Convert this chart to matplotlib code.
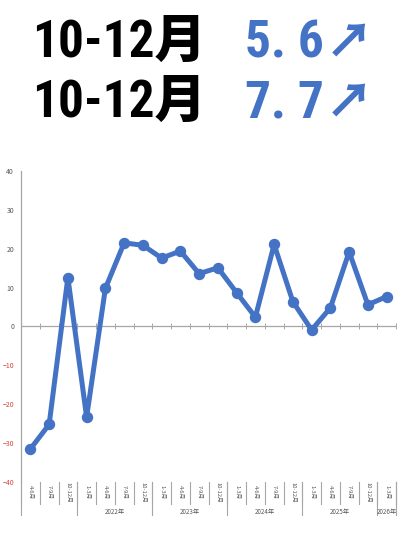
import matplotlib
matplotlib.use("Agg")
import matplotlib.pyplot as plt
import numpy as np

plt.rcParams['font.family'] = ['Noto Sans CJK JP', 'DejaVu Sans']

# quarterly values (%), Apr-Jun 2021 .. Jan-Mar 2026
quarters = ["4-6月", "7-9月", "10-12月",
            "1-3月", "4-6月", "7-9月", "10-12月",
            "1-3月", "4-6月", "7-9月", "10-12月",
            "1-3月", "4-6月", "7-9月", "10-12月",
            "1-3月", "4-6月", "7-9月", "10-12月",
            "1-3月"]
values = [-31.5, -25.2, 12.6, -23.3, 9.8, 21.5, 20.9, 17.6, 19.4, 13.6,
          15.1, 8.7, 2.4, 21.1, 6.4, -0.9, 4.8, 19.2, 5.6, 7.7]
years = ["", "2022年", "2023年", "2024年", "2025年", "2026年"]
year_sizes = [3, 4, 4, 4, 4, 1]

headline_labels = ["10-12月", "10-12月"]
headline_values = ["5. 6", "7. 7"]

blue = "#4472C4"
gray = "#A6A6A6"

W, H = 400, 533
fig = plt.figure(figsize=(W / 100, H / 100), dpi=100)

# headline
for i, (lab, val) in enumerate(zip(headline_labels, headline_values)):
    y = 1 - (57 + i * 60) / H
    fig.text(32 / W, y, lab, family=['Roboto Condensed', 'Noto Sans CJK JP'],
             fontsize=37, fontweight='black', color='black', va='baseline')
    fig.text(245 / W, y, val, family=['Roboto Condensed', 'Noto Sans CJK JP'],
             fontsize=37, fontweight='black', color=blue, va='baseline')
    fig.text(326 / W, y, "↗", family=['Noto Sans CJK JP', 'DejaVu Sans'],
             fontsize=34, fontweight='black', color=blue, va='baseline')

# chart area
left, right, top, bottom = 21, 396, 171, 482
ax = fig.add_axes([left / W, 1 - bottom / H, (right - left) / W, (bottom - top) / H])

x = np.arange(len(values))
ax.plot(x, values, color=blue, lw=3.6, marker='o', ms=7.2, zorder=4,
        solid_joinstyle='round')

ax.set_xlim(-0.5, len(values) - 0.5)
ax.set_ylim(-40, 40)
ax.set_yticks(np.arange(-40, 41, 10))
ax.tick_params(axis='y', length=0, pad=5, labelsize=5, labelcolor='#595959')
for t, v in zip(ax.get_yticklabels(), ax.get_yticks()):
    if v < 0:
        t.set_color('#D9423A')
ax.set_xticks([])
for s in ['top', 'right', 'bottom']:
    ax.spines[s].set_visible(False)
ax.spines['left'].set_color(gray)
ax.spines['left'].set_linewidth(0.9)

# zero axis with ticks between categories
ax.axhline(0, color=gray, lw=0.9, zorder=2)
bounds = np.arange(0.5, len(values), 1.0)
ax.plot(bounds, np.zeros_like(bounds), ls='none', marker='|', ms=4,
        mew=0.7, color=gray, zorder=2)

# category label area below the plot
trans = ax.get_xaxis_transform()
q_low = -(504 - bottom) / (bottom - top)
y_low = -(515 - bottom) / (bottom - top)
for b in np.arange(-0.5, len(values), 1.0):
    ax.plot([b, b], [0, q_low], color=gray, lw=0.8, transform=trans, clip_on=False)
for i, q in enumerate(quarters):
    ax.text(i, -(492 - bottom) / (bottom - top), q, transform=trans, rotation=-90,
            ha='center', va='center', fontsize=4.2, color='#595959')

start = -0.5
for yr, n in zip(years, year_sizes):
    ax.plot([start, start], [0, y_low], color=gray, lw=0.8, transform=trans, clip_on=False)
    if yr:
        ax.text(start + n / 2, -(512 - bottom) / (bottom - top), yr, transform=trans,
                ha='center', va='center', fontsize=4.5, color='#595959')
    start += n
ax.plot([start, start], [0, y_low], color=gray, lw=0.8, transform=trans, clip_on=False)

fig.savefig("out.png", dpi=100)
